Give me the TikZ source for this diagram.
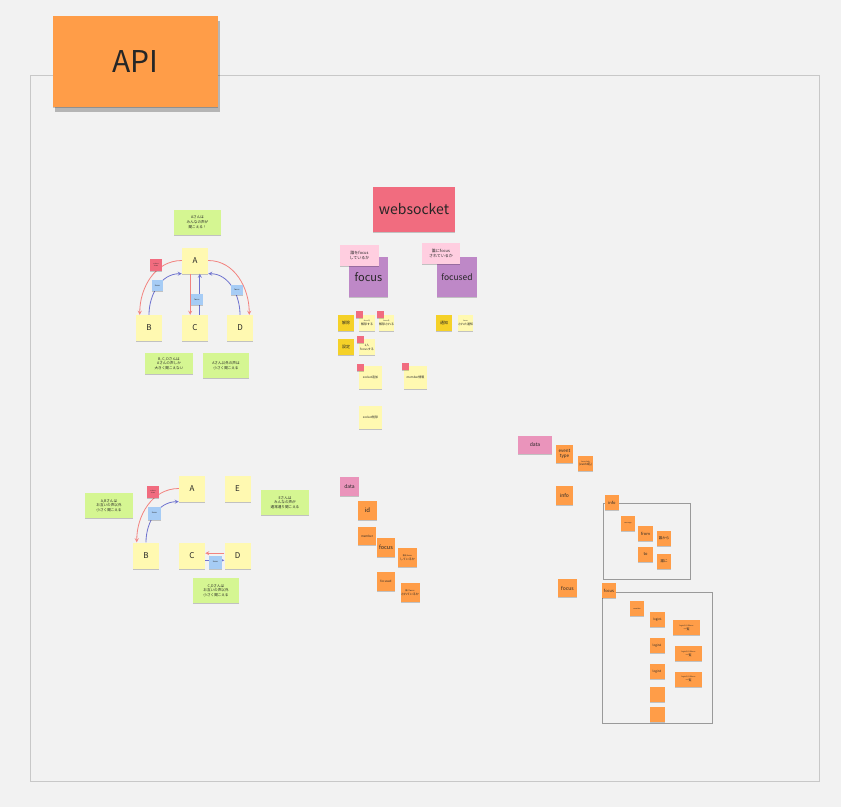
\documentclass[tikz,border=0pt]{standalone}
\usepackage{fontspec}
\setmainfont{Noto Sans CJK JP}
\usepackage{xcolor}
\usetikzlibrary{shadows}
\definecolor{boardGray}{HTML}{F2F2F2}
\definecolor{frameGray}{HTML}{C8C8C8}
\definecolor{boxGray}{HTML}{9A9A9A}
\definecolor{stickyYellow}{HTML}{FFF9B1}
\definecolor{stickyGold}{HTML}{F5D128}
\definecolor{stickyGreen}{HTML}{D5F692}
\definecolor{stickyRed}{HTML}{F16C7F}
\definecolor{stickyBlue}{HTML}{A6CCF5}
\definecolor{stickyPink}{HTML}{FFCEE0}
\definecolor{stickyPurple}{HTML}{BE88C7}
\definecolor{stickyMagenta}{HTML}{EA94BB}
\definecolor{stickyOrange}{HTML}{FF9D48}
\definecolor{arrowRed}{HTML}{F2837F}
\definecolor{arrowBlue}{HTML}{6F73CF}
\newcommand{\fsz}[1]{\fontsize{#1}{\fpeval{#1*1.25}}\selectfont}
\tikzset{
  sticky/.style={rectangle,inner sep=0pt,align=center,text=black!85,
    font=\fontsize{3}{3.8}\selectfont,
    drop shadow={shadow xshift=0pt,shadow yshift=-1.3pt,opacity=0.2,fill=black}},
  sq/.style={sticky,minimum width=#1,minimum height=#1},
  wh/.style 2 args={sticky,minimum width=#1,minimum height=#2},
  ylw/.style={fill=stickyYellow},
  gold/.style={fill=stickyGold},
  grn/.style={fill=stickyGreen,font=\fontsize{3.6}{4.8}\selectfont},
  rd/.style={fill=stickyRed,font=\fontsize{1.6}{2}\selectfont},
  blu/.style={fill=stickyBlue,font=\fontsize{2}{2.4}\selectfont},
  pnk/.style={fill=stickyPink,font=\fontsize{4}{5}\selectfont},
  prp/.style={fill=stickyPurple},
  mgt/.style={fill=stickyMagenta},
  org/.style={fill=stickyOrange},
  redline/.style={draw=arrowRed,line width=0.8pt,->},
  blueline/.style={draw=arrowBlue,line width=0.8pt,->},
}
\begin{document}
\begin{tikzpicture}[x=1pt,y=-1pt,>=stealth]
\useasboundingbox[fill=boardGray] (0,0) rectangle (841,807);
\draw[frameGray,line width=1pt] (30,75) rectangle (819,781);
\node[wh={165}{91},fill=stickyOrange,font=\fsz{30},
  drop shadow={shadow xshift=2pt,shadow yshift=-5pt,opacity=0.25,fill=black}] (apiNote) at (135.5,61.5) {API};

% everyone hears A
\node[wh={47}{25},grn] (hearAll) at (197.5,222.5) {Aさんは\\みんなの声が\\聞こえる！};
\node[sq=26,ylw,font=\fsz{8}] (nA1) at (195,260.5) {A};
\node[sq=26,ylw,font=\fsz{8}] (nB1) at (149,328) {B};
\node[sq=26,ylw,font=\fsz{8}] (nC1) at (195,328) {C};
\node[sq=26,ylw,font=\fsz{8}] (nD1) at (240,328) {D};
\draw[redline] (nA1.west) to[out=180,in=90] (nB1.125);
\draw[redline] (nA1.east) to[out=0,in=90] (nD1.55);
\draw[redline] (nA1.250) -- (nC1.110);
\draw[blueline] (nB1.north) to[out=90,in=180] (nA1.south west);
\draw[blueline] (nD1.north) to[out=90,in=0] (nA1.south east);
\draw[blueline] (nC1.70) -- (nA1.290);
\node[sq=12,rd] (muteTag1) at (156,265) {volume\\down};
\node[wh={11}{11},blu] (focusTag1) at (157.5,285.5) {focus};
\node[wh={12}{11},blu] (focusTag2) at (197,299.5) {focus};
\node[wh={12}{10},blu] (focusTag3) at (237,290) {focus};
\node[wh={48}{21},grn] (hearOnlyA) at (169,363.5) {B, C, Dさんは\\Aさんの声しか\\大きく聞こえない};
\node[wh={46}{25},grn] (hearOthers) at (226,365.5) {Aさん以外の声は\\小さく聞こえる};

% pairs
\node[wh={48}{25},grn] (hearPairAB) at (109,505.5) {A,Bさんは\\お互いの声以外\\小さく聞こえる};
\node[sq=26,ylw,font=\fsz{8}] (nA2) at (192,488.5) {A};
\node[sq=26,ylw,font=\fsz{8}] (nE2) at (237.5,488.5) {E};
\node[wh={48}{25},grn] (hearNormal) at (285,502.5) {Eさんは\\みんなの声が\\通常通り聞こえる};
\node[sq=26,ylw,font=\fsz{8}] (nB2) at (146,555.5) {B};
\node[sq=26,ylw,font=\fsz{8}] (nC2) at (192,555.5) {C};
\node[sq=26,ylw,font=\fsz{8}] (nD2) at (237.5,555.5) {D};
\draw[redline] (nA2.west) to[out=180,in=90] (nB2.125);
\draw[blueline] (nB2.north) to[out=90,in=180] (nA2.south west);
\draw[redline] (nD2.170) -- (nC2.10);
\draw[blueline] (nC2.-20) -- (nD2.200);
\node[sq=12,rd] (muteTag2) at (153,492) {volume\\down};
\node[sq=13,blu] (focusTag4) at (154.5,513) {focus};
\node[sq=13,blu] (focusTag5) at (215.5,562) {focus};
\node[wh={46}{25},grn] (hearPairCD) at (216,590.5) {C,Dさんは\\お互いの声以外\\小さく聞こえる};

% websocket
\node[wh={82}{45},fill=stickyRed,font=\fsz{14}] (wsNote) at (414,209.5) {websocket};
\node[wh={39}{40},prp,font=\fsz{11}] (focusNote) at (368.5,277) {focus};
\node[sq=40,prp,font=\fsz{8.5}] (focusedNote) at (457,277) {focused};
\node[wh={39}{21},pnk] (whoFocus) at (359.5,255.5) {誰をfocus\\しているか};
\node[wh={38}{21},pnk] (whoFocused) at (441,253.5) {誰にfocus\\されているか};
\node[sq=16,gold,font=\fsz{4}] (releaseNote) at (346,323) {解除};
\node[sq=16,ylw] (releaseSend) at (367,323) {\fsz{1.8}focusを\\解除する};
\node[wh={15}{16},ylw] (releaseRecv) at (386.5,323) {\fsz{1.8}focusを\\解除される};
\node[sq=16,gold,font=\fsz{4}] (notifyNote) at (444,323) {通知};
\node[wh={15}{16},ylw] (notifyRecv) at (465.5,323) {\fsz{1.8}focus\\された通知};
\node[sq=16,gold,font=\fsz{4}] (setNote) at (346,347) {設定};
\node[sq=16,ylw] (setSend) at (367,347) {1人\\focusする};
\node[sq=23,ylw] (socketAdd) at (370.5,377.5) {socket追加};
\node[sq=23,ylw] (memberInfo) at (415.5,377.5) {member情報};
\node[sq=23,ylw] (socketDel) at (370.5,417.5) {socket削除};
\node[sq=7,fill=stickyRed] (flag1) at (359.5,314.5) {};
\node[sq=7,fill=stickyRed] (flag2) at (380.5,314.5) {};
\node[sq=7,fill=stickyRed] (flag3) at (360,339) {};
\node[sq=7,fill=stickyRed] (flag4) at (360,367) {};
\node[sq=7,fill=stickyRed] (flag5) at (405.5,366) {};

% data (websocket)
\node[sq=19,mgt,font=\fsz{5}] (dataWs) at (349.5,486.5) {data};
\node[sq=19,org,font=\fsz{6}] (idWs) at (367.5,510.5) {id};
\node[sq=18,org] (memberWs) at (367,536) {member};
\node[wh={18}{19},org,font=\fsz{5.5}] (focusWs) at (386,547.5) {focus};
\node[sq=19,org] (focusWho) at (407.5,557.5) {\fsz{2}誰をfocus\\しているか};
\node[wh={18}{19},org] (focusedWs) at (386,581.5) {focused};
\node[sq=19,org] (focusedWho) at (410,592.5) {\fsz{2}誰にfocus\\されているか};

% data (api)
\draw[boxGray,line width=1pt] (603,503) rectangle (690,579);
\draw[boxGray,line width=1pt] (602,592) rectangle (712,723);
\node[wh={34}{18},mgt,font=\fsz{5}] (dataApi) at (535,445) {data};
\node[wh={17}{18},org,font=\fsz{4.5}] (eventType) at (564.5,454) {event\\type};
\node[sq=15,org] (eventName) at (585.5,463.5) {\fsz{1.8}focus/info\\(event名)};
\node[wh={17}{19},org,font=\fsz{5}] (infoApi) at (564.5,495.5) {info};
\node[wh={14}{15},org,font=\fsz{4}] (infoKey) at (612,502.5) {info};
\node[wh={14}{15},org] (infoMsg) at (628,523.5) {\fsz{1.8}message};
\node[sq=15,org,font=\fsz{4}] (infoFrom) at (645.5,533.5) {from};
\node[wh={14}{15},org,font=\fsz{3.5}] (infoFromWho) at (664,538.5) {誰から};
\node[sq=15,org,font=\fsz{4}] (infoTo) at (645.5,554.5) {to};
\node[wh={14}{15},org,font=\fsz{3.5}] (infoToWho) at (664,561.5) {誰に};
\node[wh={19}{18},org,font=\fsz{5}] (focusApi) at (567.5,588) {focus};
\node[wh={14}{15},org,font=\fsz{4}] (focusKey) at (609,590.5) {focus};
\node[wh={14}{15},org] (focusMember) at (637,608.5) {\fsz{1.8}member};
\node[sq=15,org] (login1) at (657.5,619.5) {login1};
\node[wh={27}{15},org] (login1List) at (686.5,627.5) {\fsz{1.8}loginからのfocus\\一覧};
\node[sq=15,org] (login2) at (657,645.5) {login2};
\node[wh={27}{15},org] (login2List) at (688.5,653.5) {\fsz{1.8}loginからのfocus\\一覧};
\node[sq=15,org] (login3) at (657,671.5) {login3};
\node[wh={27}{15},org] (login3List) at (688.5,679) {\fsz{1.8}loginからのfocus\\一覧};
\node[sq=15,org] (blank1) at (657.5,694.5) {};
\node[sq=15,org] (blank2) at (657.5,714.5) {};
\end{tikzpicture}
\end{document}
